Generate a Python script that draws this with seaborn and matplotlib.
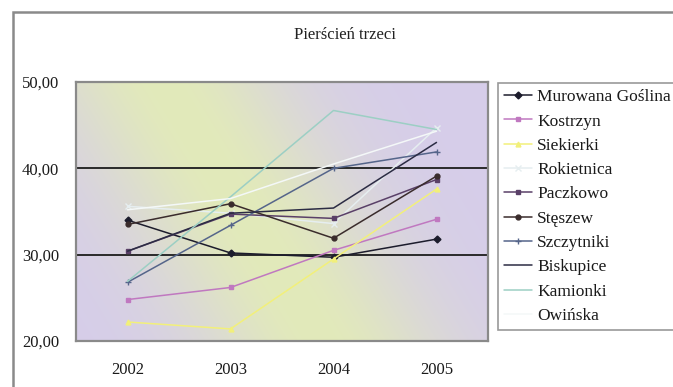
import numpy as np
import pandas as pd
import matplotlib
matplotlib.use("Agg")
import matplotlib.pyplot as plt
from matplotlib.patches import Rectangle
import seaborn as sns

# ---- data ----
years = ["2002", "2003", "2004", "2005"]
murowana_goslina = [34.0, 30.2, 29.7, 31.8]
kostrzyn = [24.8, 26.2, 30.5, 34.1]
siekierki = [22.2, 21.4, 29.5, 37.6]
rokietnica = [35.6, 34.8, 33.6, 44.7]
paczkowo = [30.4, 34.7, 34.2, 38.7]
steszew = [33.5, 35.9, 31.9, 39.1]
szczytniki = [26.8, 33.4, 40.0, 41.9]
biskupice = [30.4, 34.8, 35.4, 43.0]
kamionki = [26.9, 36.7, 46.7, 44.5]
owinska = [35.2, 36.5, 40.5, 44.3]

series_names = ["Murowana Goślina", "Kostrzyn", "Siekierki", "Rokietnica",
                "Paczkowo", "Stęszew", "Szczytniki", "Biskupice",
                "Kamionki", "Owińska"]
series_values = [murowana_goslina, kostrzyn, siekierki, rokietnica, paczkowo,
                 steszew, szczytniki, biskupice, kamionki, owinska]
y_ticks = [20, 30, 40, 50]
y_tick_labels = ["20,00", "30,00", "40,00", "50,00"]
title = "Pierścień trzeci"

rows = []
for name, vals in zip(series_names, series_values):
    for i, v in enumerate(vals):
        rows.append({"pos": i, "rok": years[i], "seria": name, "wartosc": v})
df = pd.DataFrame(rows)

palette = {
    "Murowana Goślina": "#1c1c2c",
    "Kostrzyn": "#c078c0",
    "Siekierki": "#f2f07a",
    "Rokietnica": "#e6eef0",
    "Paczkowo": "#5a4068",
    "Stęszew": "#3a2c2c",
    "Szczytniki": "#55658a",
    "Biskupice": "#2c2c44",
    "Kamionki": "#9ccfc4",
    "Owińska": "#f4f8f8",
}
markers = {
    "Murowana Goślina": "D",
    "Kostrzyn": "s",
    "Siekierki": "^",
    "Rokietnica": "x",
    "Paczkowo": "s",
    "Stęszew": "o",
    "Szczytniki": "+",
    "Biskupice": None,
    "Kamionki": None,
    "Owińska": None,
}

sns.set_theme(style="white")
plt.rcParams["font.family"] = ["Liberation Serif", "DejaVu Serif"]

W, H = 673, 387
fig = plt.figure(figsize=(W / 100, H / 100), dpi=100)
fig.patch.set_facecolor("white")

L, R, T, B = 76, 488, 82, 341
ax = fig.add_axes([L / W, 1 - B / H, (R - L) / W, (B - T) / H])

# background gradient (lavender with diagonal yellow-green band)
nx, ny = 412, 259
xx, yy = np.meshgrid(np.arange(nx), np.arange(ny))
p1 = np.array([165 - L, 85 - T], float)
p2 = np.array([320 - L, 340 - T], float)
d = p2 - p1
n = np.array([-d[1], d[0]]) / np.hypot(*d)
dist = (xx - p1[0]) * n[0] + (yy - p1[1]) * n[1]
w = np.exp(-(dist / 105.0) ** 2)
lav = np.array([214, 205, 234]) / 255
yg = np.array([226, 234, 186]) / 255
img = lav[None, None, :] * (1 - w[..., None]) + yg[None, None, :] * w[..., None]
ax.imshow(img, extent=(-0.5, 3.5, 20, 50), aspect="auto", zorder=0,
          origin="upper", interpolation="bilinear")

for yv in [30, 40]:
    ax.axhline(yv, color="#2a2a2a", lw=1.4, zorder=1)

for name in series_names:
    sub = df[df["seria"] == name]
    mk = markers[name]
    kw = {}
    if mk is not None:
        kw = dict(marker=mk, markersize=3.5 if mk not in ("x", "+") else 5,
                  markeredgewidth=1.0, markeredgecolor=palette[name])
    sns.lineplot(data=sub, x="pos", y="wartosc", color=palette[name],
                 linewidth=1.1, label=name, ax=ax, zorder=3, **kw)

ax.set_xlim(-0.5, 3.5)
ax.set_ylim(20, 50)
ax.set_xticks(range(len(years)))
ax.set_xticklabels(years, fontsize=12)
ax.set_yticks(y_ticks)
ax.set_yticklabels(y_tick_labels, fontsize=12)
ax.tick_params(axis="x", length=0, pad=15, colors="#1a1a1a")
ax.tick_params(axis="y", length=0, pad=12, colors="#1a1a1a")
ax.set_xlabel("")
ax.set_ylabel("")
for s in ax.spines.values():
    s.set_color("#8a8a8a")
    s.set_linewidth(1.6)

handles, labels = ax.get_legend_handles_labels()
ax.legend(handles, labels, loc="upper left",
          bbox_to_anchor=(498 / W, 1 - 83 / H), bbox_transform=fig.transFigure,
          frameon=True, fancybox=False, edgecolor="#9a9a9a", facecolor="white",
          framealpha=1, fontsize=12.5, labelspacing=0.47, handlelength=1.6,
          handletextpad=0.3, borderpad=0.35, borderaxespad=0)
leg = ax.get_legend()
leg.get_frame().set_linewidth(1.2)
for t in leg.get_texts():
    t.set_color("#1a1a1a")

fig.text(345 / W, 1 - 35 / H, title, ha="center", va="center", fontsize=12,
         color="#222222")

# outer chart border
fig.patches.append(Rectangle((13 / W, -0.1), 1.2, 1 - 12 / H + 0.1,
                             transform=fig.transFigure, fill=False,
                             edgecolor="#8a8a8a", linewidth=1.8))

fig.savefig("out.png", dpi=100, facecolor="white")
